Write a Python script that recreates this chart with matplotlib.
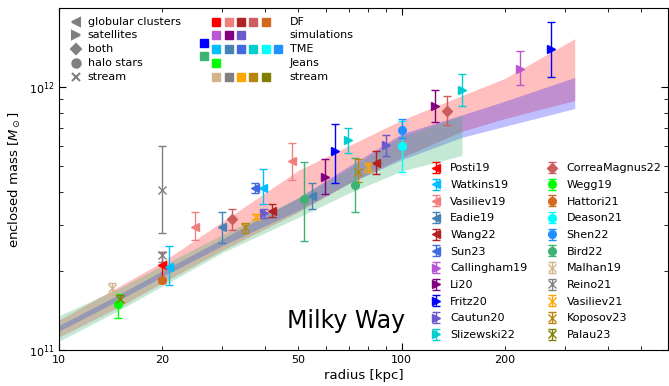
import numpy as np
import matplotlib
matplotlib.use("Agg")
import matplotlib.pyplot as plt
import matplotlib.ticker as mticker

# --- mass-model bands (radius in kpc, enclosed mass in Msun) ---
r_band   = [10, 15, 20, 30, 50, 70, 100, 150, 200, 320]
red_lo   = [1.12e11, 1.46e11, 1.80e11, 2.40e11, 3.35e11, 4.30e11, 5.40e11, 6.80e11, 7.60e11, 8.90e11]
red_hi   = [1.30e11, 1.75e11, 2.16e11, 3.08e11, 4.83e11, 5.98e11, 7.50e11, 9.30e11, 1.08e12, 1.53e12]
blue_lo  = [1.18e11, 1.55e11, 1.90e11, 2.50e11, 3.40e11, 4.30e11, 5.30e11, 6.45e11, 7.10e11, 8.30e11]
blue_hi  = [1.24e11, 1.63e11, 2.00e11, 2.65e11, 3.80e11, 5.00e11, 6.65e11, 7.85e11, 8.85e11, 1.09e12]
r_green  = [10, 15, 20, 30, 50, 70, 100, 150]
green_lo = [1.08e11, 1.42e11, 1.75e11, 2.35e11, 3.20e11, 3.95e11, 4.80e11, 5.50e11]
green_hi = [1.35e11, 1.72e11, 2.10e11, 2.75e11, 3.80e11, 4.90e11, 6.50e11, 7.80e11]

# --- literature measurements: name, colour, marker, r, M, M_lo, M_hi ---
studies = [
    ("Posti19",        "red",            "<", [20.0],         [2.10e11],          [1.85e11],          [2.37e11]),
    ("Watkins19",      "deepskyblue",    "<", [21.0, 39.4],   [2.07e11, 4.14e11], [1.77e11, 3.61e11], [2.49e11, 4.87e11]),
    ("Vasiliev19",     "lightcoral",     "<", [25.0, 47.9],   [2.93e11, 5.23e11], [2.62e11, 4.43e11], [3.36e11, 6.11e11]),
    ("Eadie19",        "steelblue",      "<", [30.0, 54.9],   [2.93e11, 3.86e11], [2.55e11, 3.44e11], [3.36e11, 4.33e11]),
    ("Wang22",         "firebrick",      "<", [41.9, 84.0],   [3.38e11, 5.13e11], [3.20e11, 4.66e11], [3.59e11, 5.71e11]),
    ("Sun23",          "royalblue",      "<", [37.3],         [4.14e11],          [3.96e11],          [4.33e11]),
    ("Callingham19",   "mediumorchid",   ">", [222.0],        [1.17e12],          [1.02e12],          [1.37e12]),
    ("Li20",           "purple",         ">", [59.7, 124.8],  [4.54e11, 8.47e11], [3.94e11, 7.38e11], [5.32e11, 9.74e11]),
    ("Fritz20",        "blue",           ">", [63.8, 273.0],  [5.73e11, 1.40e12], [4.34e11, 1.09e12], [7.22e11, 1.77e12]),
    ("Cautun20",       "slateblue",      ">", [39.7, 89.8],   [3.31e11, 6.02e11], [3.18e11, 5.47e11], [3.44e11, 6.57e11]),
    ("Slizewski22",    "darkturquoise",  ">", [69.7, 150.3],  [6.29e11, 9.74e11], [5.60e11, 8.47e11], [7.00e11, 1.12e12]),
    ("CorreaMagnus22", "indianred",      "D", [31.9, 135.6],  [3.15e11, 8.10e11], [2.86e11, 7.17e11], [3.44e11, 9.27e11]),
    ("Wegg19",         "lime",           "o", [14.9],         [1.50e11],          [1.33e11],          [1.63e11]),
    ("Hattori21",      "chocolate",      "o", [20.0],         [1.85e11],          [1.80e11],          [1.88e11]),
    ("Deason21",       "cyan",           "o", [100.0],        [5.98e11],          [4.74e11],          [7.45e11]),
    ("Shen22",         "dodgerblue",     "o", [100.0],        [6.87e11],          [6.42e11],          [7.54e11]),
    ("Bird22",         "mediumseagreen", "o", [51.9, 72.9],   [3.77e11, 4.24e11], [2.60e11, 3.36e11], [5.20e11, 5.36e11]),
    ("Malhan19",       "tan",            "x", [14.3],         [1.72e11],          [1.64e11],          [1.80e11]),
    ("Reino21",        "grey",           "x", [20.0, 20.0],   [4.06e11, 2.30e11], [2.79e11, 2.16e11], [5.98e11, 2.36e11]),
    ("Vasiliev21",     "orange",         "x", [37.7, 79.7],   [3.21e11, 4.98e11], [3.15e11, 4.76e11], [3.29e11, 5.17e11]),
    ("Koposov23",      "darkgoldenrod",  "x", [34.9, 74.4],   [2.93e11, 4.76e11], [2.80e11, 4.37e11], [3.05e11, 5.32e11]),
    ("Palau23",        "olive",          "x", [15.1],         [1.57e11],          [1.52e11],          [1.62e11]),
]

# --- method / tracer key ---
tracer_markers = ["<", ">", "D", "o", "x"]
tracer_labels  = ["globular clusters", "satellites", "both", "halo stars", "stream"]
method_labels  = ["DF", "simulations", "TME", "Jeans", "stream"]
method_colors  = [
    ["red", "lightcoral", "firebrick", "indianred", "chocolate"],
    ["mediumorchid", "purple", "slateblue"],
    ["deepskyblue", "steelblue", "royalblue", "darkturquoise", "cyan", "dodgerblue"],
    ["lime"],
    ["tan", "grey", "orange", "darkgoldenrod", "olive"],
]
extra_colors = ["blue", "mediumseagreen"]

fig = plt.figure(figsize=(6.69, 3.86), dpi=100)
ax = fig.add_axes([0.088, 0.093, 0.911, 0.886])

ax.fill_between(r_band, red_lo, red_hi, color="red", alpha=0.25, lw=0)
ax.fill_between(r_band, blue_lo, blue_hi, color="blue", alpha=0.25, lw=0)
ax.fill_between(r_green, green_lo, green_hi, color="mediumseagreen", alpha=0.3, lw=0)

handles = []
for name, col, mk, r, m, mlo, mhi in studies:
    m = np.array(m)
    yerr = [m - np.array(mlo), np.array(mhi) - m]
    h = ax.errorbar(r, m, yerr=yerr, fmt=mk, color=col, ms=5.5 if mk != "x" else 6,
                    capsize=3, elinewidth=1, capthick=1, mew=1, label=name)
    handles.append(h)

ax.set_xscale("log")
ax.set_yscale("log")
ax.set_xlim(10, 600)
ax.set_ylim(1e11, 2e12)

ax.xaxis.set_major_formatter(mticker.FuncFormatter(lambda v, p: "%d" % round(v) if round(v) in (10, 100) else ""))
ax.xaxis.set_minor_formatter(mticker.FuncFormatter(lambda v, p: "%d" % round(v) if round(v) in (20, 50, 200) else ""))
ax.tick_params(which="both", direction="in", top=True, right=True, labelsize=8)
ax.tick_params(which="major", length=5)
ax.tick_params(which="minor", length=3)

ax.set_xlabel("radius [kpc]", fontsize=9.5, labelpad=3)
ax.set_ylabel(r"enclosed mass [$M_\odot$]", fontsize=9.5, labelpad=4)

ax.text(0.472, 0.085, "Milky Way", transform=ax.transAxes, fontsize=17, ha="center", va="center")

ax.legend(handles=handles, ncol=2, loc="lower right", bbox_to_anchor=(1.005, 0.0),
          frameon=False, fontsize=8, handlelength=1.0, handletextpad=0.8,
          columnspacing=1.7, labelspacing=0.6)

# --- tracer / method key in the upper left ---
row_y = 0.9605 - 0.0406 * np.arange(5)
for i, (mk, lab) in enumerate(zip(tracer_markers, tracer_labels)):
    ax.plot([0.028], [row_y[i]], marker=mk, color="grey", ms=6 if mk != "D" else 5, mew=1.5,
            ls="none", transform=ax.transAxes, clip_on=False)
    ax.text(0.0475, row_y[i], lab, transform=ax.transAxes, fontsize=8, va="center")
for i, (cols, lab) in enumerate(zip(method_colors, method_labels)):
    for j, c in enumerate(cols):
        ax.plot([0.2585 + 0.0202 * j], [row_y[i]], marker="s", color=c, ms=5.5,
                ls="none", transform=ax.transAxes)
    ax.text(0.3787, row_y[i], lab, transform=ax.transAxes, fontsize=8, va="center")
for k, c in enumerate(extra_colors):
    ax.plot([0.2382], [0.8985 - 0.038 * k], marker="s", color=c, ms=5.5,
            ls="none", transform=ax.transAxes)

fig.savefig("out.png", dpi=100)
